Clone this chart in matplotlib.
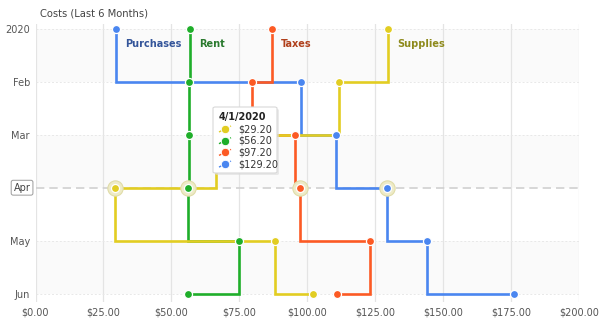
import matplotlib
matplotlib.use("Agg")
import matplotlib.pyplot as plt
from matplotlib.patches import FancyBboxPatch

months = ["2020", "Feb", "Mar", "Apr", "May", "Jun"]
series_names = ["Purchases", "Rent", "Taxes", "Supplies"]
purchases = [29.7, 97.6, 110.4, 129.2, 143.9, 175.9]
rent = [56.8, 56.4, 56.3, 56.2, 74.9, 56.0]
taxes = [87.0, 79.5, 95.4, 97.2, 123.0, 111.0]
supplies = [129.8, 111.5, 66.4, 29.2, 87.9, 101.9]
x_ticks = [0, 25, 50, 75, 100, 125, 150, 175, 200]
tooltip_title = "4/1/2020"
highlight_idx = 3

colors = ["#4a86f0", "#1fae2a", "#fc5a24", "#e2cd22"]
label_colors = ["#34559a", "#2a7a2e", "#b0401c", "#8e8a1c"]
all_series = [purchases, rent, taxes, supplies]

W, H = 604, 324
fig = plt.figure(figsize=(W / 100, H / 100), dpi=100)
ax = fig.add_axes([35.5 / W, 1 - 302 / H, (579.3 - 35.5) / W, 278 / H])
ypos = list(range(len(months)))
ax.set_xlim(0, 200)
ax.set_ylim(5.15, -0.1)

for s in ax.spines.values():
    s.set_visible(False)

# faint bands
for b in (0, 2, 4):
    ax.axhspan(b, b + 1, color="#f8f8f8", alpha=0.7, zorder=0, lw=0)

for xt in x_ticks:
    ax.axvline(xt, color="#e4e4e4", lw=0.9, zorder=1)
for i, y in enumerate(ypos):
    if i == highlight_idx:
        ax.axhline(y, color="#d0d0d0", lw=1.2, ls=(0, (5, 3)), zorder=1)
    else:
        ax.axhline(y, color="#e8e8e8", lw=0.7, ls=(0, (2, 2)), zorder=1)

ax.set_xticks(x_ticks)
ax.set_xticklabels([f"${v:.2f}" for v in x_ticks])
ax.set_yticks(ypos)
ax.set_yticklabels([m if i != highlight_idx else "" for i, m in enumerate(months)])
ax.tick_params(length=0, labelsize=7, labelcolor="#555555", pad=4)

# lines
for vals, c in zip(all_series, colors):
    ax.plot(vals, ypos, drawstyle="steps-pre", color=c, lw=1.9, zorder=3,
            solid_joinstyle="miter")
# halos on highlighted
for vals in all_series:
    ax.plot(vals[highlight_idx], ypos[highlight_idx], "o", ms=11,
            color="#eeebc8", mec="#e0dca8", mew=0.8, zorder=4)
# points
for vals, c in zip(all_series, colors):
    ax.plot(vals, ypos, "o", ms=5.8, color=c, mec="white", mew=0.9, zorder=5)

# series labels
for vals, name, lc in zip(all_series, series_names, label_colors):
    ax.annotate(name, (vals[0], ypos[0]), xytext=(6.3, -10.5),
                textcoords="offset points", ha="left", va="center",
                fontsize=7, fontweight="bold", color=lc, zorder=6)

# title
fig.text(40 / W, 1 - 13 / H, "Costs (Last 6 Months)", fontsize=7.2,
         color="#444444", ha="left", va="center")

# Apr label box
fig.text(30.5 / W, 1 - 187.7 / H, months[highlight_idx], fontsize=7,
         color="#444444", ha="right", va="center",
         bbox=dict(boxstyle="round,pad=0.25,rounding_size=0.2",
                   fc="white", ec="#9a9a9a", lw=0.7))

# tooltip
def fx(px):
    return px / W

def fy(py):
    return 1 - py / H

shadow = FancyBboxPatch((fx(215), fy(175)), fx(64), 66 / H,
                        boxstyle="round,pad=0,rounding_size=0.004",
                        transform=fig.transFigure, fc="#dcdcdc", ec="none",
                        alpha=0.6, zorder=10)
box = FancyBboxPatch((fx(213), fy(173)), fx(64), 66 / H,
                     boxstyle="round,pad=0,rounding_size=0.004",
                     transform=fig.transFigure, fc="white", ec="#d8d8d8",
                     lw=0.8, zorder=11)
fig.add_artist(shadow)
fig.add_artist(box)
fig.text(fx(219), fy(117), tooltip_title, fontsize=7, fontweight="bold",
         color="#222222", ha="left", va="center", zorder=12)
order = [3, 1, 2, 0]
for k, si in enumerate(order):
    yy = 129 + k * 11.7
    c = colors[si]
    fig.add_artist(plt.Line2D([fx(219), fx(231)], [fy(yy + 3), fy(yy - 3)],
                              transform=fig.transFigure, color=c, lw=1.0,
                              ls=(0, (2, 1)), zorder=12))
    fig.add_artist(plt.Line2D([fx(225)], [fy(yy)], transform=fig.transFigure,
                              marker="o", ms=6, color=c, mec="white", mew=0.6,
                              zorder=13))
    fig.text(fx(238), fy(yy), f"${all_series[si][highlight_idx]:.2f}",
             fontsize=7, color="#333333", ha="left", va="center", zorder=12)

fig.savefig("out.png", dpi=100)
